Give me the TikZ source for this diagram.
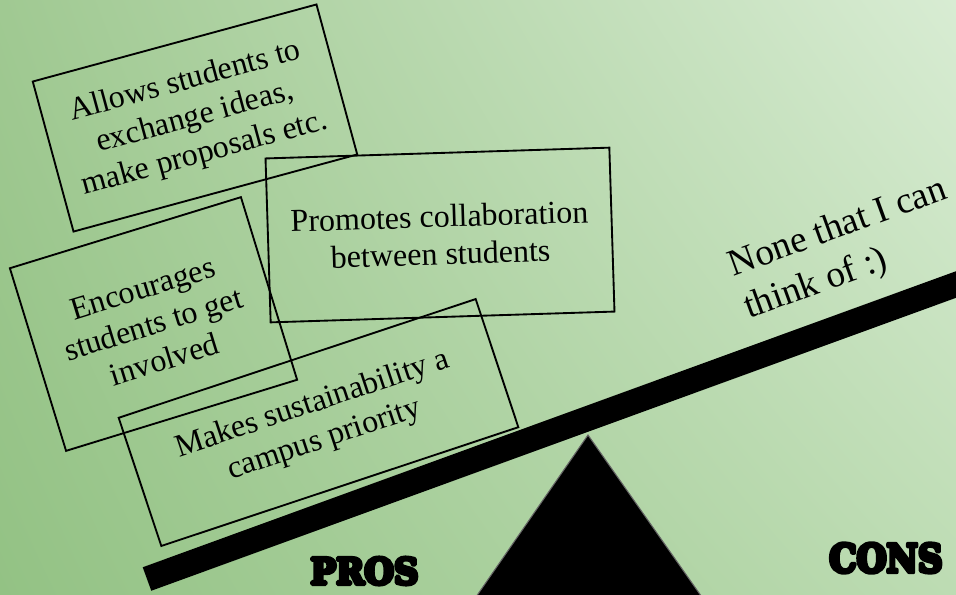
\documentclass[tikz,border=0pt]{standalone}
\usepackage{fontspec}
\setmainfont{Liberation Serif}
\newfontfamily\slab{DejaVu Serif}
\newcommand\heavytext[1]{\special{pdf:literal 2 Tr 1.1 w 1 j 0 g 0 G}#1\special{pdf:literal 0 Tr 1 w 0 j}}
\usetikzlibrary{calc,shadings}
\definecolor{bgTL}{HTML}{A0C992}
\definecolor{bgTR}{HTML}{D8ECD3}
\definecolor{bgBL}{HTML}{93C284}
\definecolor{bgBR}{HTML}{BDDCB3}
\tikzset{
  idea/.style={draw=black, line width=1.4pt, align=center, inner sep=0pt,
    font=\fontsize{24}{28}\selectfont},
  heading/.style={inner sep=0pt, font=\slab\bfseries},
}
\begin{document}
\begin{tikzpicture}[x=0.75pt,y=-0.75pt]
\useasboundingbox (0,0) rectangle (956,594);
\shade[upper left=bgTL, upper right=bgTR, lower left=bgBL, lower right=bgBR] (0,0) rectangle (956,594);
\begin{scope}
\clip (0,0) rectangle (956,594);
\coordinate (beamL) at (147,579);
\coordinate (beamR) at (1000,268.5);
\draw[line width=18.75pt, line cap=butt] (beamL) -- (beamR);
\coordinate (apex) at (588,435);
\coordinate (baseL) at (460,620);
\coordinate (baseR) at (718,620);
\filldraw[fill=black, draw=black!60, line width=0.8pt] (apex) -- (baseL) -- (baseR) -- cycle;
\end{scope}
\node[idea, rotate=15.2, minimum width=220.5pt, minimum height=116.6pt] (b1) at (195,118)
  {Allows students to\\exchange ideas,\\make proposals etc.};
\node[idea, rotate=1.8, minimum width=258pt, minimum height=123pt] (b2) at (440,235)
  {Promotes collaboration\\between students};
\node[idea, rotate=17.1, minimum width=181.3pt, minimum height=143.3pt] (b3) at (153.5,324)
  {Encourages\\students to get\\involved};
\node[idea, rotate=18.4, minimum width=282.2pt, minimum height=101.3pt] (b4) at (318.5,422.5)
  {Makes sustainability a\\campus priority};
\node[rotate=20, align=left, inner sep=0pt, font=\fontsize{28}{34}\selectfont] (cons) at (846,250)
  {None that I can\\think of :)};
\node[heading] (pros) at (364.5,571) {\resizebox{81pt}{20pt}{\heavytext{PROS}}};
\node[heading] (conslabel) at (886,558) {\resizebox{85pt}{21.5pt}{\heavytext{CONS}}};
\end{tikzpicture}
\end{document}
